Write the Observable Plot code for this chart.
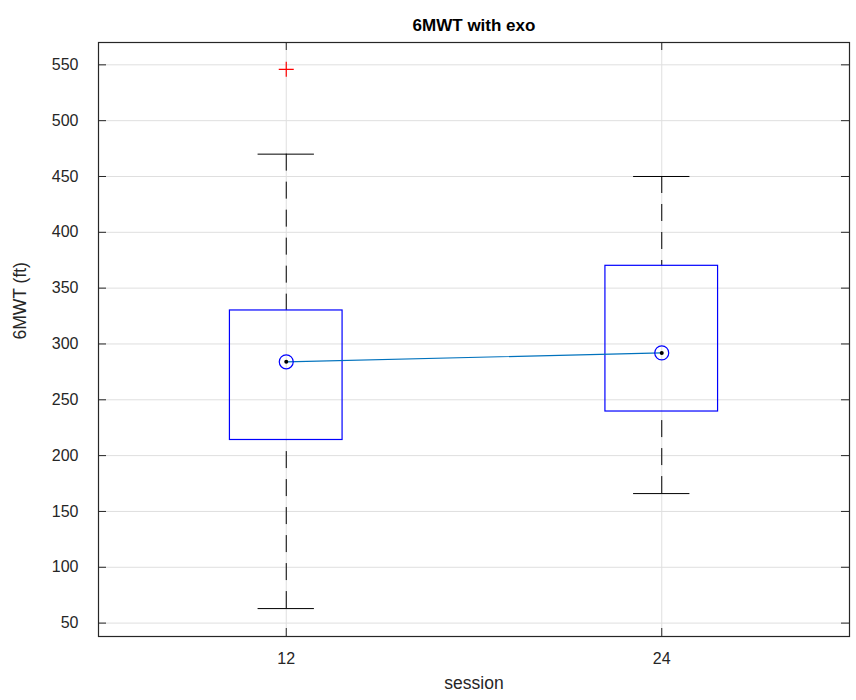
<!DOCTYPE html>
<html>
<head>
<meta charset="utf-8">
<script src="https://cdn.jsdelivr.net/npm/d3@7"></script>
<script src="https://cdn.jsdelivr.net/npm/@observablehq/plot@0.6"></script>
<style>
  body { margin: 0; background: #fff; }
  #chart svg { font-family: "Liberation Sans", Arial, Helvetica, sans-serif; }
</style>
</head>
<body>
<div id="chart"></div>
<script>
// Box plot summary of 6MWT distance (ft) per session
const sessions = ["12", "24"];
const lowerWhisker = [63, 166];
const q1 = [214, 239.5];
const median = [284, 292];
const q3 = [330, 370];
const upperWhisker = [470, 450];

// Points beyond the whiskers
const outlierSessions = ["12"];
const outlierValues = [546];

const yTicks = [50, 100, 150, 200, 250, 300, 350, 400, 450, 500, 550];

const width = 856, height = 700;
const margin = {top: 42, right: 7, bottom: 64, left: 98};
const plotW = width - margin.left - margin.right;
const plotH = height - margin.top - margin.bottom;
const tickLen = 8;
const ink = "#262626";

// Sessions sit at positions 1..n on a linear axis
const pos = (s) => sessions.indexOf(s) + 1;
const stats = sessions.map((s, i) => ({
  pos: i + 1, session: s,
  lo: lowerWhisker[i], q1: q1[i], med: median[i], q3: q3[i], hi: upperWhisker[i]
}));
const outliers = outlierSessions.map((s, i) => ({pos: pos(s), value: outlierValues[i]}));
const xTicks = stats.map(d => d.pos);

const boxHalf = 0.15, capHalf = 0.075;

const chart = Plot.plot({
  width, height,
  marginTop: margin.top, marginRight: margin.right,
  marginBottom: margin.bottom, marginLeft: margin.left,
  style: {background: "#fff", color: ink, fontFamily: "Liberation Sans, Arial, sans-serif"},
  x: {type: "linear", domain: [0.5, sessions.length + 0.5]},
  y: {domain: [38, 570]},
  marks: [
    // grid
    Plot.gridY(yTicks, {stroke: "#dfdfdf", strokeOpacity: 1}),
    Plot.gridX(xTicks, {stroke: "#dfdfdf", strokeOpacity: 1}),

    // whiskers (dashed), drawn from the whisker end toward the box
    Plot.ruleX(stats, {x: "pos", y1: "hi", y2: "q3", stroke: "black", strokeDasharray: "17,11"}),
    Plot.ruleX(stats, {x: "pos", y1: "lo", y2: "q1", stroke: "black", strokeDasharray: "17,11"}),
    // whisker caps
    Plot.ruleY(stats, {y: "hi", x1: d => d.pos - capHalf, x2: d => d.pos + capHalf, stroke: "black"}),
    Plot.ruleY(stats, {y: "lo", x1: d => d.pos - capHalf, x2: d => d.pos + capHalf, stroke: "black"}),
    // boxes
    Plot.rect(stats, {x1: d => d.pos - boxHalf, x2: d => d.pos + boxHalf, y1: "q1", y2: "q3",
      fill: "none", stroke: "#0000ff", strokeWidth: 1.2}),

    // line joining the medians
    Plot.line(stats, {x: "pos", y: "med", stroke: "#0072BD", strokeWidth: 1.2}),
    // median targets
    Plot.dot(stats, {x: "pos", y: "med", r: 7, stroke: "#0000ff", fill: "none", strokeWidth: 1.2}),
    Plot.dot(stats, {x: "pos", y: "med", r: 2, fill: "black", stroke: "none"}),

    // outliers
    Plot.dot(outliers, {x: "pos", y: "value", symbol: "plus", r: 4.9, stroke: "red", strokeWidth: 1.2}),

    // axes frame and inward ticks on all four sides
    Plot.frame({stroke: ink, strokeWidth: 1.2}),
    Plot.tickY(yTicks, {y: d => d, insetRight: plotW - tickLen, stroke: ink}),
    Plot.tickY(yTicks, {y: d => d, insetLeft: plotW - tickLen, stroke: ink}),
    Plot.tickX(xTicks, {x: d => d, insetTop: plotH - tickLen, stroke: ink}),
    Plot.tickX(xTicks, {x: d => d, insetBottom: plotH - tickLen, stroke: ink}),

    // tick labels
    Plot.axisY(yTicks, {tickSize: 0, tickPadding: 20, fontSize: 16, label: null, fill: ink}),
    Plot.axisX(xTicks, {tickSize: 0, tickPadding: 16, fontSize: 16, label: null, fill: ink,
      tickFormat: d => sessions[d - 1]}),

    // titles
    Plot.text(["6MWT with exo"], {frameAnchor: "top", dy: -24, fontSize: 17, fontWeight: "bold", fill: "black"}),
    Plot.text(["session"], {frameAnchor: "bottom", dy: 52, fontSize: 17.5, fill: ink}),
    Plot.text(["6MWT (ft)"], {frameAnchor: "left", dx: -78, rotate: -90, fontSize: 17.5, fill: ink})
  ]
});

document.getElementById("chart").appendChild(chart);
</script>
</body>
</html>
